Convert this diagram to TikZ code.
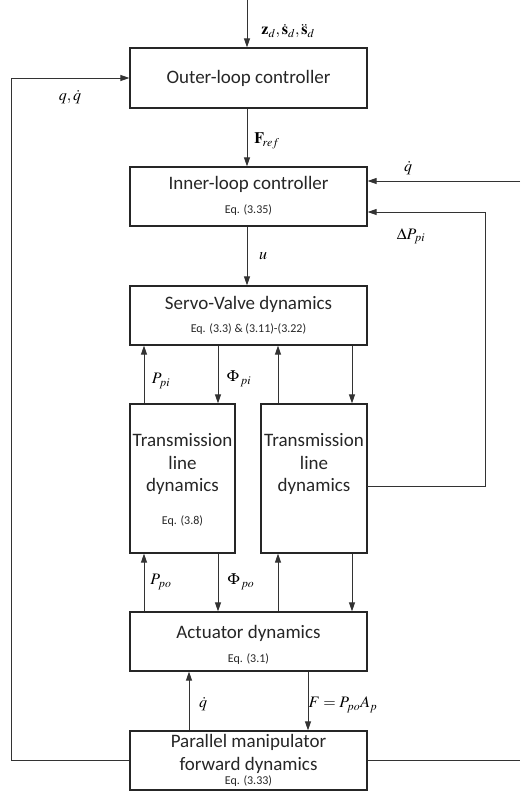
\documentclass[tikz,border=0pt]{standalone}
\usepackage{mathptmx}
\usepackage[no-math]{fontspec}
\setmainfont{Carlito}
\usetikzlibrary{arrows.meta}
\begin{document}
\begin{tikzpicture}[x=1pt,y=-1pt,
  box/.style={draw=black!85, line width=1.2pt, inner sep=0pt, rectangle, minimum width=237pt, minimum height=59pt},
  ttl/.style={font=\fontsize{19}{22.5}\selectfont, text=black!85, inner sep=0pt},
  eqt/.style={font=\fontsize{12}{14}\selectfont, text=black!85, inner sep=0pt},
  lab/.style={font=\fontsize{16}{18}\selectfont, inner sep=0pt},
  ln/.style={line width=0.9pt, draw=black!80},
  arr/.style={ln, -{Triangle[length=9pt,width=6pt]}}]
\useasboundingbox (0,0) rectangle (520,793);
% boxes
\node[box, minimum height=60pt] (outer) at (248.5,78) {};
\node[box] (inner) at (248.5,196.5) {};
\node[box] (servo) at (248.5,315.5) {};
\node[box, minimum width=105pt, minimum height=149pt] (tr1) at (182.5,478.5) {};
\node[box, minimum width=106pt, minimum height=149pt] (tr2) at (314,478.5) {};
\node[box] (act) at (248.5,641.5) {};
\node[box] (par) at (248.5,760.5) {};
% box texts
\node[ttl] (t1) at (248.5,78) {Outer-loop controller};
\node[ttl] (t2) at (248.5,184) {Inner-loop controller};
\node[eqt] (e2) at (248.5,210) {Eq. (3.35)};
\node[ttl] (t3) at (248.5,304) {Servo-Valve dynamics};
\node[eqt] (e3) at (248.5,329) {Eq. (3.3) \& (3.11)-(3.22)};
\node[ttl, align=center] (t4) at (182.5,464) {Transmission\\line\\dynamics};
\node[eqt] (e4) at (182.5,521) {Eq. (3.8)};
\node[ttl, align=center] (t5) at (314,464) {Transmission\\line\\dynamics};
\node[ttl] (t6) at (248.5,633) {Actuator dynamics};
\node[eqt] (e6) at (248.5,659) {Eq. (3.1)};
\node[ttl, align=center] (t7) at (248.5,754) {Parallel manipulator\\forward dynamics};
\node[eqt] (e7) at (248.5,781) {Eq. (3.33)};
% coordinates
\coordinate (cin) at (247,0);
\coordinate (c1) at (144,0);
\coordinate (c2) at (218,0);
\coordinate (c3) at (278,0);
\coordinate (c4) at (352,0);
\coordinate (c5) at (189,0);
\coordinate (c6) at (308,0);
\coordinate (lft) at (11,0);
\coordinate (rq) at (520,181);
\coordinate (rd) at (485,212);
\coordinate (tr2o) at (367,486);
\coordinate (rb) at (520,760.5);
% connectors
\draw[arr] (cin) -- (cin |- outer.north);
\draw[arr] (cin |- outer.south) -- (cin |- inner.north);
\draw[arr] (cin |- inner.south) -- (cin |- servo.north);
\draw[arr] (par.west) -| (lft |- outer.west) -- (outer.west);
\draw[ln] (par.east) -- (rb);
\draw[arr] (rq) -- (inner.east |- rq);
\draw[arr] (tr2o) -| (rd) -- (inner.east |- rd);
\draw[arr] (c1 |- tr1.north) -- (c1 |- servo.south);
\draw[arr] (c2 |- servo.south) -- (c2 |- tr1.north);
\draw[arr] (c3 |- tr2.north) -- (c3 |- servo.south);
\draw[arr] (c4 |- servo.south) -- (c4 |- tr2.north);
\draw[arr] (c1 |- act.north) -- (c1 |- tr1.south);
\draw[arr] (c2 |- tr1.south) -- (c2 |- act.north);
\draw[arr] (c3 |- act.north) -- (c3 |- tr2.south);
\draw[arr] (c4 |- tr2.south) -- (c4 |- act.north);
\draw[arr] (c5 |- par.north) -- (c5 |- act.south);
\draw[arr] (c6 |- act.south) -- (c6 |- par.north);
% labels
\node[lab] (l1) at (288,31) {$\mathbf{z}_d,\dot{\mathbf{s}}_d,\ddot{\mathbf{s}}_d$};
\node[lab] (l2) at (70,97) {$q,\dot q$};
\node[lab] (l3) at (267,141) {$\mathbf{F}_{\!ref}$};
\node[lab] (l4) at (408,168) {$\dot q$};
\node[lab] (l5) at (411,236) {$\Delta P_{pi}$};
\node[lab] (l6) at (263,256) {$u$};
\node[lab] (l7) at (161,381) {$P_{pi}$};
\node[lab] (l8) at (239,379) {$\Phi_{\,pi}$};
\node[lab] (l9) at (161,582) {$P_{po}$};
\node[lab] (l10) at (241,582) {$\Phi_{\,po}$};
\node[lab] (l11) at (203,704) {$\dot q$};
\node[lab] (l12) at (343,705) {$F=P_{po}A_p$};
\end{tikzpicture}
\end{document}
